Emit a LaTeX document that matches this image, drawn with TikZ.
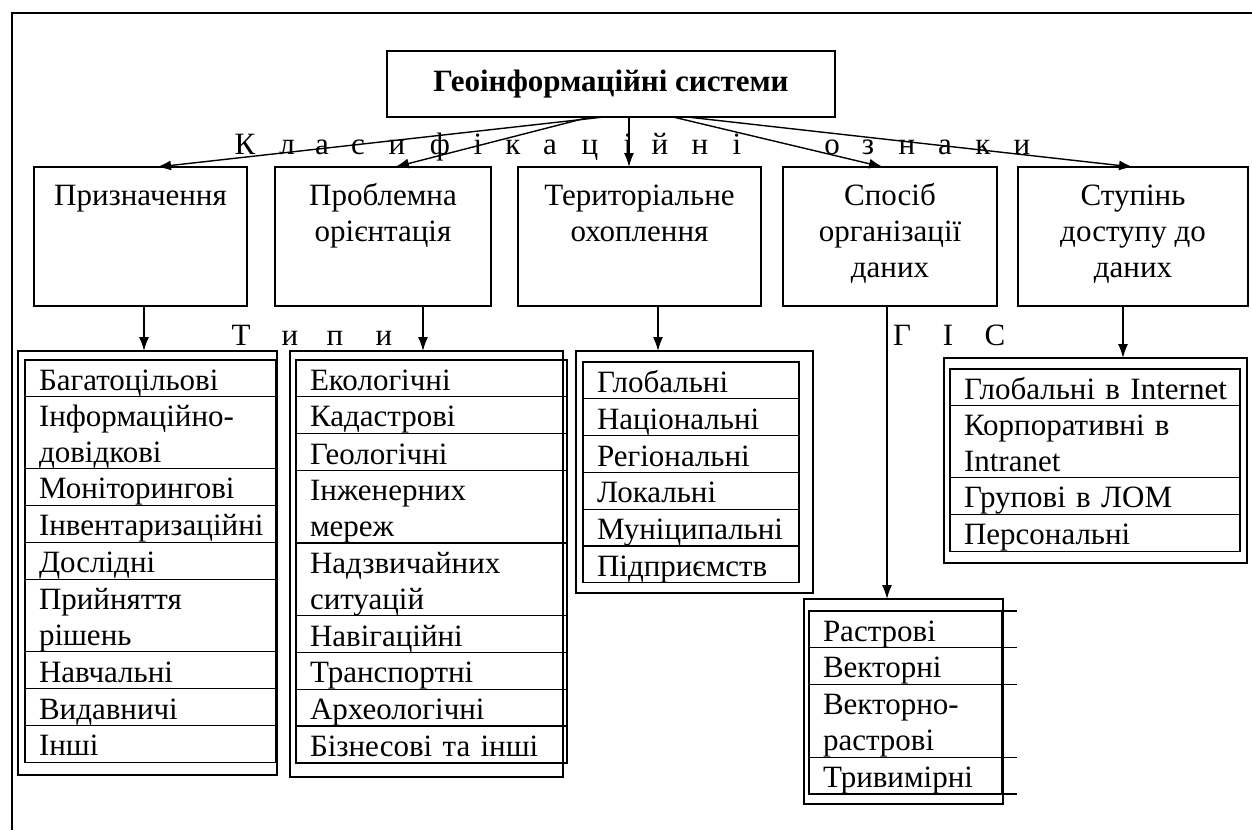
\documentclass[tikz,border=0pt]{standalone}
\usepackage{fontspec}
\setmainfont{Liberation Serif}
\usetikzlibrary{arrows.meta,positioning,calc}
\tikzset{
  txt/.style={font=\fontsize{31}{36}\selectfont},
  catbox/.style={draw, line width=1.5pt, minimum height=139pt, outer sep=0pt},
  catlbl/.style={anchor=north, align=center, inner sep=0pt, yshift=-13pt, txt},
  rowbox/.style={draw, line width=1.3pt, outer sep=0pt, inner xsep=14pt, inner ysep=0pt,
    align=left, minimum height=36.8pt, txt,
    execute at begin node={\rule{0pt}{30pt}}, execute at end node={\rule[-6pt]{0pt}{6pt}}},
  tworow/.style={minimum height=72pt},
  frameln/.style={line width=1.5pt},
  arr/.style={-{Latex[length=14pt,width=10pt]}, line width=1.4pt},
  spaced/.style={anchor=base, inner sep=0pt, txt},
}

\begin{document}
\begin{tikzpicture}[x=1pt, y=-1pt]
  \useasboundingbox (0,0) rectangle (1252,830);
  \draw[frameln] (12,830) -- (12,13) -- (1252,13);

  % ----- top -----
  \node[draw, line width=1.5pt, minimum width=448pt, minimum height=66pt, outer sep=0pt,
    font=\bfseries\fontsize{31}{36}\selectfont] (geo) at (611,84) {Геоінформаційні системи};

  % ----- classification features -----
  \node[catbox, minimum width=213pt, label={[catlbl]north:{\strut Призначення}}] (nazn) at (140.5,236.5) {};
  \node[catbox, minimum width=216pt, label={[catlbl]north:{\strut Проблемна\\орієнтація}}] (probl) at (383,236.5) {};
  \node[catbox, minimum width=243pt, label={[catlbl]north:{\strut Територіальне\\охоплення}}] (terr) at (639.5,236.5) {};
  \node[catbox, minimum width=214pt, label={[catlbl]north:{\strut Спосіб\\організації\\даних}}] (sposib) at (890,236.5) {};
  \node[catbox, minimum width=230pt, label={[catlbl]north:{\strut Ступінь\\доступу до\\даних}}] (dostup) at (1133,236.5) {};

  \draw[arr] ($(geo.south)+(-7,0)$) -- ($(nazn.north)+(16.5,0)$);
  \draw[arr] ($(geo.south)+(-21,0)$) -- ($(probl.north)+(12,0)$);
  \draw[arr] ($(geo.south)+(18,0)$) -- ($(terr.north)+(-10.5,0)$);
  \draw[arr] ($(geo.south)+(62,0)$) -- ($(sposib.north)+(-7,0)$);
  \draw[arr] ($(geo.south)+(76,0)$) -- (dostup.north);

  \foreach \ch/\xx [count=\i] in {К/245,л/287,а/322,с/358,и/397,ф/440,і/478,к/513,а/550,ц/590,і/628,й/660,н/700,і/737}
    \node[spaced] (kl\i) at (\xx,154) {\ch};
  \foreach \ch/\xx [count=\i] in {о/832,з/868,н/907,а/945,к/983,и/1022}
    \node[spaced] (ozn\i) at (\xx,154) {\ch};

  % ----- types -----
  \foreach \ch/\xx [count=\i] in {Т/241,и/290,п/335,и/384}
    \node[spaced] (typ\i) at (\xx,345) {\ch};
  \foreach \ch/\xx [count=\i] in {Г/902,І/948,С/995}
    \node[spaced] (gis\i) at (\xx,345) {\ch};

  \coordinate (f1) at (144,351);
  \coordinate (f2) at (423,351);
  \coordinate (f3) at (658,351);
  \coordinate (f4) at (887,599);
  \coordinate (f5) at (1123,358);
  \draw[arr] (nazn.south -| f1) -- (f1);
  \draw[arr] (probl.south -| f2) -- (f2);
  \draw[arr] (terr.south -| f3) -- (f3);
  \draw[arr] (sposib.south -| f4) -- (f4);
  \draw[arr] (dostup.south -| f5) -- (f5);

  \draw[frameln] (18,351) rectangle (277,775);
  \draw[frameln] (290,351) rectangle (563,777);
  \draw[frameln] (576,351) rectangle (813,593);
  \draw[frameln] (804,599) rectangle (1003,804);
  \draw[frameln] (944,358) rectangle (1247,563);

  % ----- призначення -----
  \begin{scope}[rowbox/.append style={text width=223pt}]
    \node[rowbox, anchor=north west] (p1) at (25,360) {Багатоцільові};
    \node[rowbox, tworow, below=0pt of p1] (p2) {Інформаційно-\\довідкові};
    \node[rowbox, below=0pt of p2] (p3) {Моніторингові};
    \node[rowbox, below=0pt of p3] (p4) {Інвентаризаційні};
    \node[rowbox, below=0pt of p4] (p5) {Дослідні};
    \node[rowbox, tworow, below=0pt of p5] (p6) {Прийняття\\рішень};
    \node[rowbox, below=0pt of p6] (p7) {Навчальні};
    \node[rowbox, below=0pt of p7] (p8) {Видавничі};
    \node[rowbox, below=0pt of p8] (p9) {Інші};
  \end{scope}

  % ----- орієнтація -----
  \begin{scope}[rowbox/.append style={text width=243pt}]
    \node[rowbox, anchor=north west] (o1) at (296,360) {Екологічні};
    \node[rowbox, below=0pt of o1] (o2) {Кадастрові};
    \node[rowbox, below=0pt of o2] (o3) {Геологічні};
    \node[rowbox, tworow, below=0pt of o3] (o4) {Інженерних\\мереж};
    \node[rowbox, tworow, below=0pt of o4] (o5) {Надзвичайних\\ситуацій};
    \node[rowbox, below=0pt of o5] (o6) {Навігаційні};
    \node[rowbox, below=0pt of o6] (o7) {Транспортні};
    \node[rowbox, below=0pt of o7] (o8) {Археологічні};
    \node[rowbox, below=0pt of o8] (o9) {Бізнесові та інші};
  \end{scope}

  % ----- охоплення -----
  \begin{scope}[rowbox/.append style={text width=188pt}]
    \node[rowbox, anchor=north west] (t1) at (583,362) {Глобальні};
    \node[rowbox, below=0pt of t1] (t2) {Національні};
    \node[rowbox, below=0pt of t2] (t3) {Регіональні};
    \node[rowbox, below=0pt of t3] (t4) {Локальні};
    \node[rowbox, below=0pt of t4] (t5) {Муніципальні};
    \node[rowbox, below=0pt of t5] (t6) {Підприємств};
  \end{scope}

  % ----- організація даних -----
  \begin{scope}[rowbox/.append style={text width=165pt}]
    \node[rowbox, anchor=north west] (s1) at (809,611) {Растрові};
    \node[rowbox, below=0pt of s1] (s2) {Векторні};
    \node[rowbox, tworow, below=0pt of s2] (s3) {Векторно-\\растрові};
    \node[rowbox, below=0pt of s3] (s4) {Тривимірні};
  \end{scope}
  \foreach \r in {s1,s2,s3,s4}
    \draw[line width=1.3pt] (\r.north east) -- ++(15,0);
  \draw[line width=1.3pt] (s4.south east) -- ++(15,0);

  % ----- доступ -----
  \begin{scope}[rowbox/.append style={text width=262pt}]
    \node[rowbox, anchor=north west] (d1) at (950,369) {\mbox{Глобальні в Internet}};
    \node[rowbox, tworow, below=0pt of d1] (d2) {Корпоративні в\\Intranet};
    \node[rowbox, below=0pt of d2] (d3) {Групові в ЛОМ};
    \node[rowbox, below=0pt of d3] (d4) {Персональні};
  \end{scope}
\end{tikzpicture}
\end{document}
